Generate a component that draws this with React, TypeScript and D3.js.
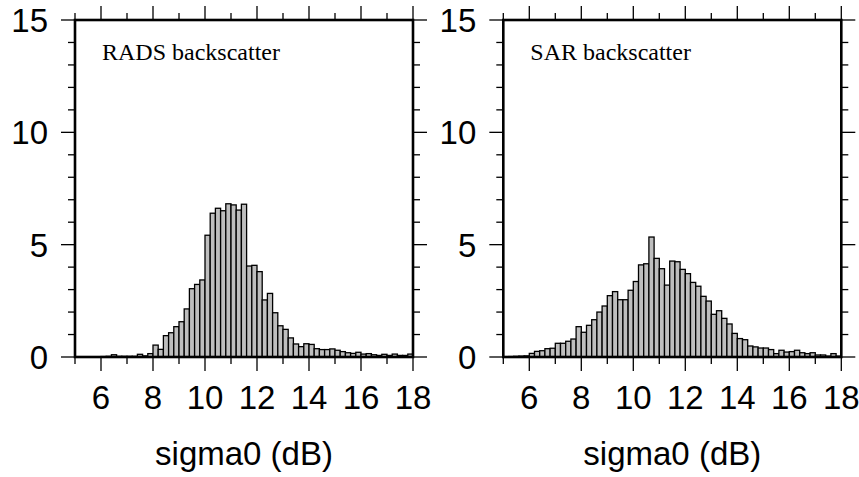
import React from "react";
import { scaleLinear, range } from "d3";

// histogram bins: 0.2 dB wide, starting at 5 dB
const binWidth = 0.2;
const binStarts = range(65).map((i) => +(5 + i * binWidth).toFixed(1));

const radsCounts = [
  0, 0, 0, 0, 0, 0.02, 0.03, 0.1, 0.03, 0.03, 0.03, 0.03, 0.12, 0.05, 0.15, 0.53,
  0.34, 0.95, 1.08, 1.35, 1.57, 2.14, 3.04, 3.23, 3.43, 5.42, 6.4, 6.62, 6.51, 6.82,
  6.77, 6.54, 6.8, 4.05, 4.08, 3.8, 2.54, 2.83, 1.97, 1.39, 1.23, 0.85, 0.58, 0.46,
  0.59, 0.56, 0.37, 0.33, 0.33, 0.36, 0.3, 0.24, 0.19, 0.16, 0.21, 0.13, 0.15, 0.1,
  0.07, 0.12, 0.07, 0.13, 0.07, 0.07, 0.13,
];

const sarCounts = [
  0, 0.02, 0.03, 0.04, 0.05, 0.16, 0.25, 0.28, 0.37, 0.39, 0.61, 0.61, 0.7, 0.8,
  1.35, 1.1, 1.41, 1.66, 2.0, 2.27, 2.73, 2.91, 2.55, 2.55, 2.97, 3.36, 4.1, 4.15,
  5.34, 4.39, 3.93, 3.2, 4.27, 4.24, 3.9, 3.71, 3.32, 3.15, 2.7, 2.49, 1.9, 2.06,
  1.72, 1.47, 1.05, 0.82, 0.77, 0.49, 0.45, 0.4, 0.4, 0.33, 0.15, 0.3, 0.22, 0.24,
  0.3, 0.19, 0.15, 0.19, 0.09, 0.09, 0.04, 0.15, 0.04,
];

const xMajor = [6, 8, 10, 12, 14, 16, 18];
const xMinor = range(5, 19, 1);
const yMajor = [0, 5, 10, 15];
const yMinor = range(0, 16, 1);

const W = 338;
const H = 337;

function Panel({ counts, label, left, top }) {
  const x = scaleLinear().domain([5, 18]).range([0, W]);
  const y = scaleLinear().domain([0, 15]).range([H, 0]);
  const sans = "'Liberation Sans', Arial, Helvetica, sans-serif";
  return (
    <g transform={`translate(${left},${top})`}>
      {counts.map((c, i) =>
        c > 0 ? (
          <rect
            key={i}
            x={x(binStarts[i])}
            y={y(c)}
            width={x(binStarts[i] + binWidth) - x(binStarts[i])}
            height={y(0) - y(c)}
            fill="#bebebe"
            stroke="black"
            strokeWidth={1.3}
          />
        ) : null
      )}

      {/* bottom + top ticks */}
      {xMinor.map((t) => {
        const len = xMajor.includes(t) ? 14 : 7;
        return (
          <g key={"x" + t} stroke="black" strokeWidth={1.3}>
            <line x1={x(t)} x2={x(t)} y1={H} y2={H + len} />
            <line x1={x(t)} x2={x(t)} y1={0} y2={-len} />
          </g>
        );
      })}
      {/* left + right ticks */}
      {yMinor.map((t) => {
        const len = yMajor.includes(t) ? 14 : 7;
        return (
          <g key={"y" + t} stroke="black" strokeWidth={1.3}>
            <line x1={0} x2={-len} y1={y(t)} y2={y(t)} />
            <line x1={W} x2={W + len} y1={y(t)} y2={y(t)} />
          </g>
        );
      })}

      <rect x={0} y={0} width={W} height={H} fill="none" stroke="black" strokeWidth={2.6} />

      {xMajor.map((t) => (
        <text key={"xl" + t} x={x(t)} y={H + 52} textAnchor="middle" fontFamily={sans} fontSize={33}>
          {t}
        </text>
      ))}
      {yMajor.map((t) => (
        <text
          key={"yl" + t}
          x={-27}
          y={y(t)}
          dy="0.36em"
          textAnchor="end"
          fontFamily={sans}
          fontSize={33}
        >
          {t}
        </text>
      ))}
      <text x={W / 2} y={H + 108} textAnchor="middle" fontFamily={sans} fontSize={33}>
        sigma0 (dB)
      </text>
      <text x={27} y={40} fontFamily="'Liberation Serif', 'Times New Roman', serif" fontSize={24}>
        {label}
      </text>
    </g>
  );
}

export default function App() {
  return (
    <svg
      width={859}
      height={477}
      style={{ position: "absolute", left: 0, top: 0, background: "white" }}
    >
      <Panel counts={radsCounts} label="RADS backscatter" left={75} top={20} />
      <Panel counts={sarCounts} label="SAR backscatter" left={503.3} top={20} />
    </svg>
  );
}
